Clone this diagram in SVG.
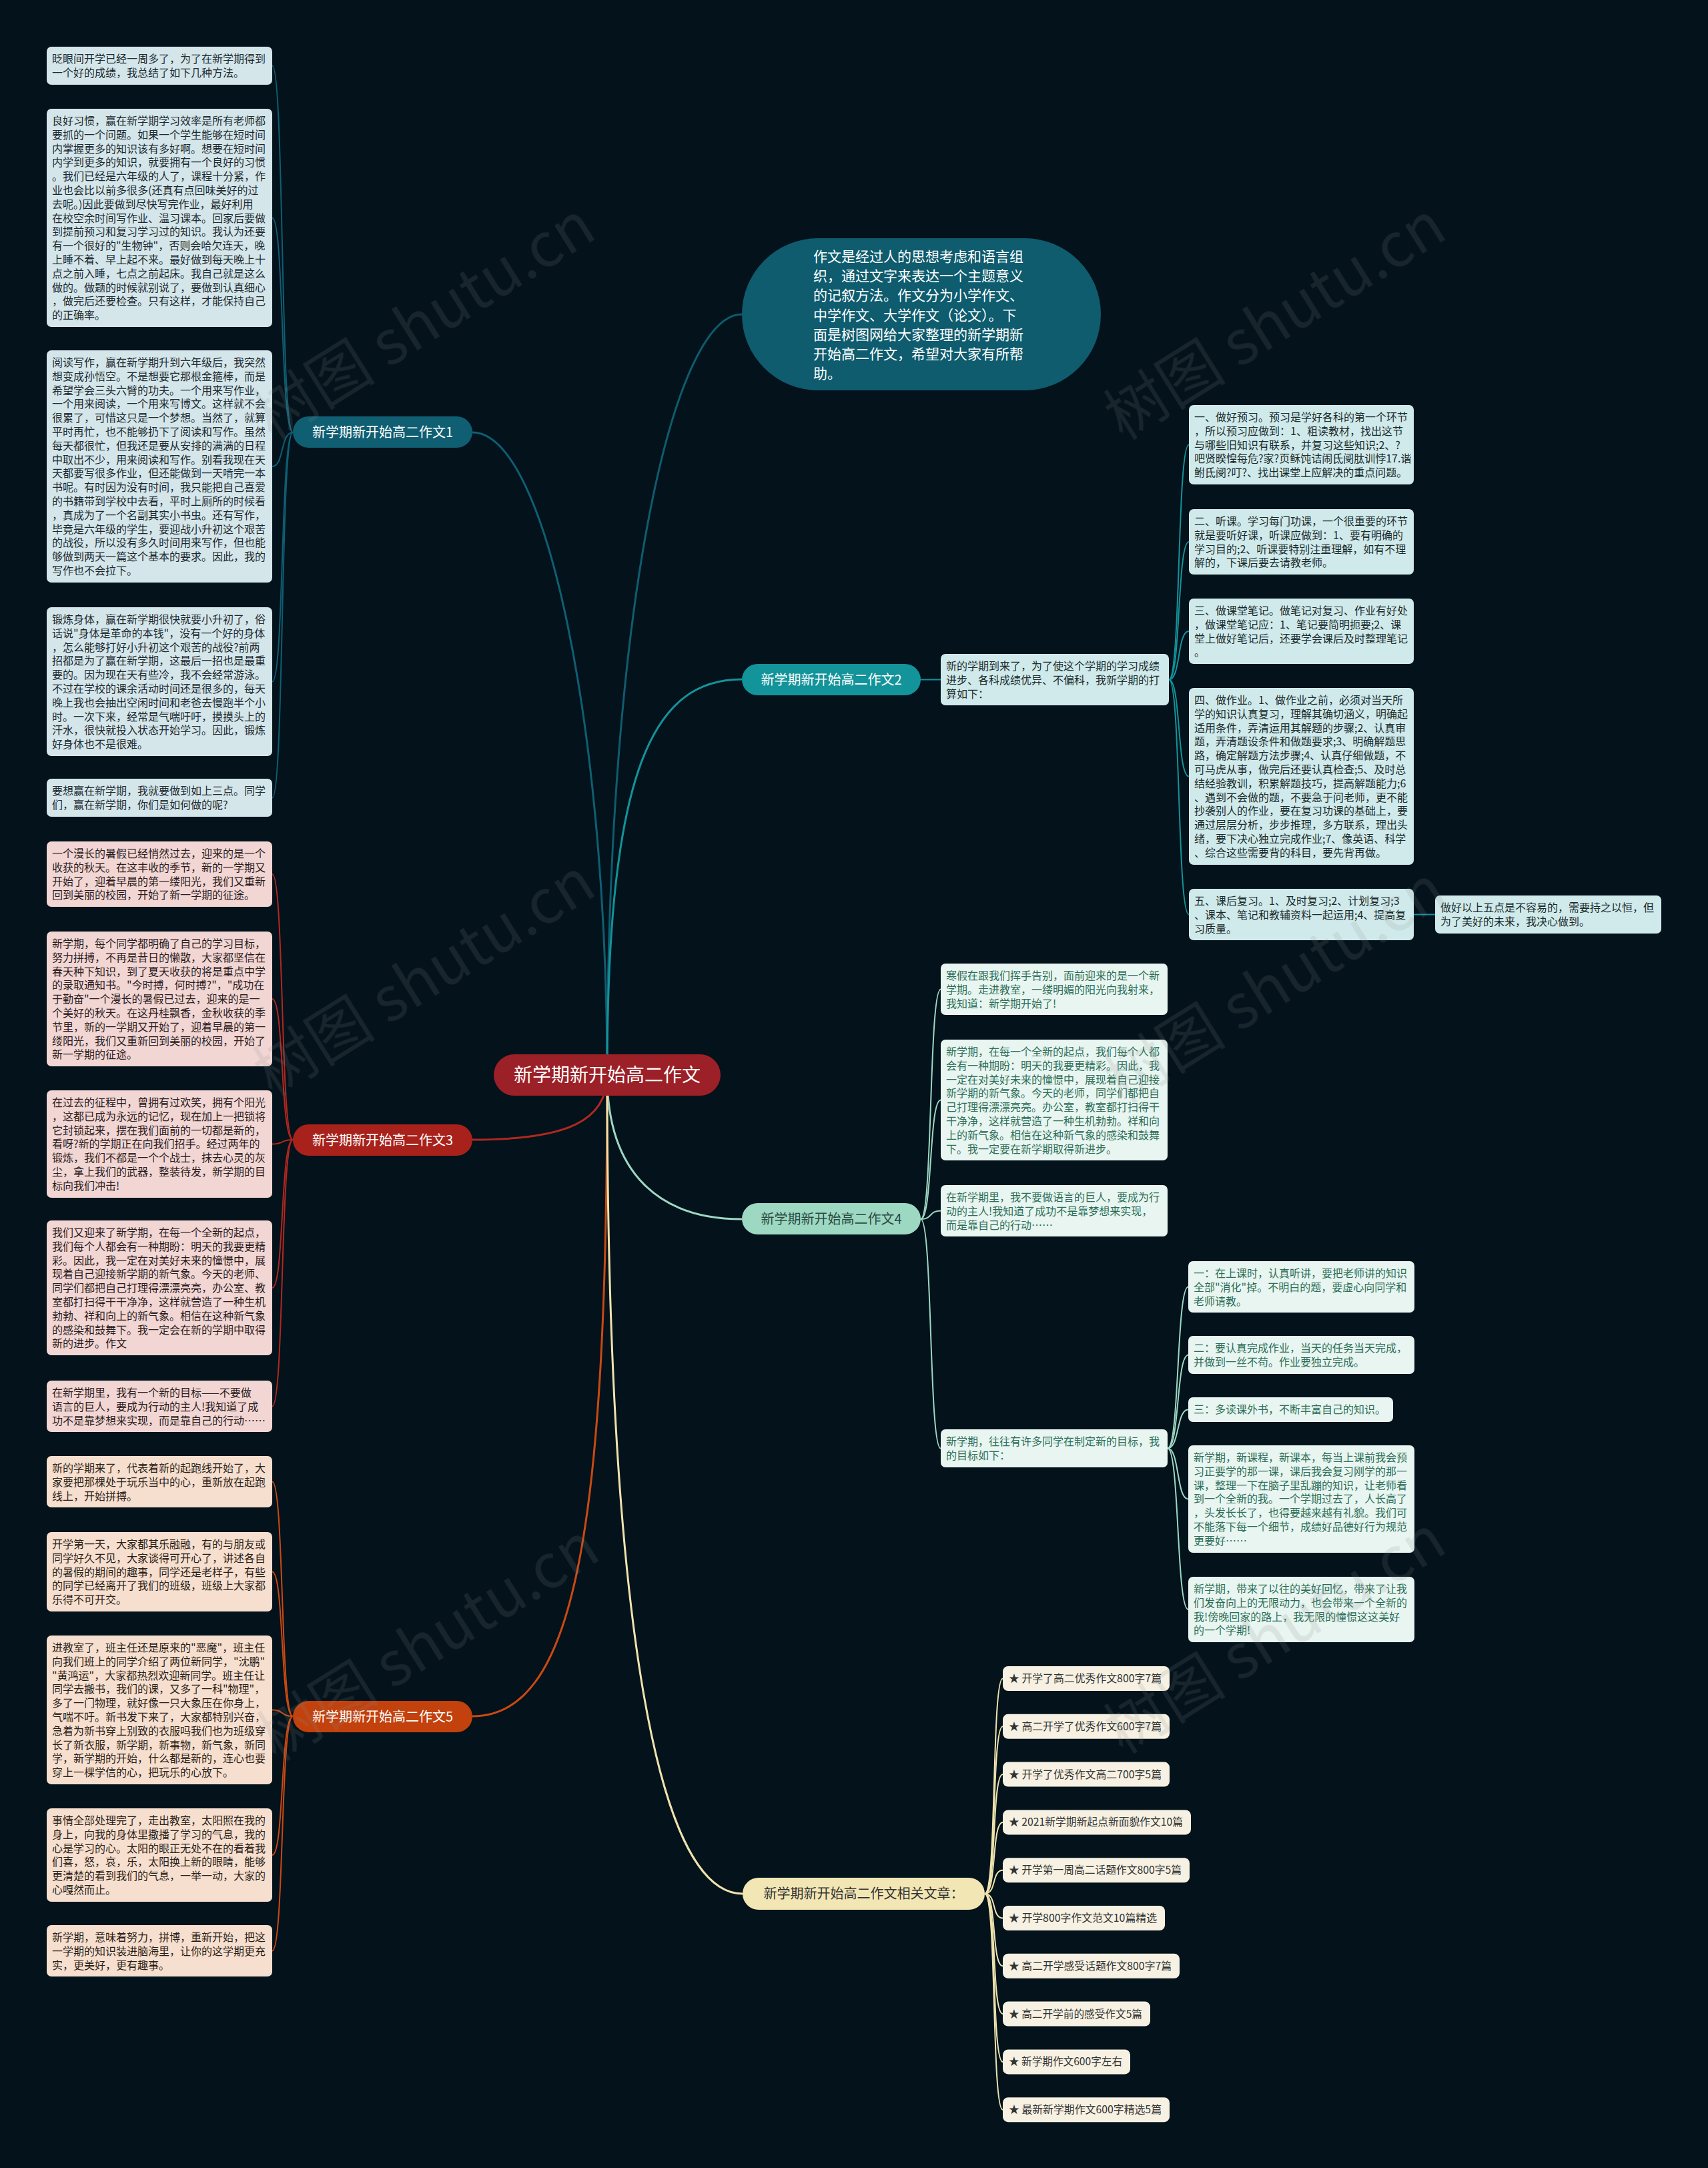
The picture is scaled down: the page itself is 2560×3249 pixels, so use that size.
<svg xmlns="http://www.w3.org/2000/svg" width="2560" height="3249" viewBox="0 0 2560 3249">
<style>
text{font-family:"Noto Sans CJK SC","Noto Sans",sans-serif}
.bt{font-size:16px}
.b1 rect{fill:#d4e6ea}.b1 text{fill:#1c2930}
.b3 rect{fill:#f1d6d4}.b3 text{fill:#2b1b1b}
.b5 rect{fill:#f6dfcf}.b5 text{fill:#2b1d15}
.b2 rect{fill:#d0eaeb}.b2 text{fill:#1a2a2c}
.b4 rect{fill:#e8f5f0}.b4 text{fill:#2c6e58}
.rel rect{fill:#f6f1e2}.rel text{fill:#333;font-size:16px}
.nd text{font-size:20px;text-anchor:middle}
.wm{font-family:"Liberation Serif","Noto Sans CJK SC",serif;font-size:92px;fill:#8a8a8a;opacity:0.16}
</style>
<rect x="0" y="0" width="2560" height="3249" fill="#03121b"/>

<g id="connectors" fill="none">
<g stroke-width="3">
<path d="M1112 471 C1010 471,910 900,910 1611" stroke="#0e5c6e"/>
<path d="M708 648 C820 648,910 1100,910 1611" stroke="#0f5e72"/>
<path d="M1112 1018 C980 1018,910 1150,910 1611" stroke="#13939a"/>
<path d="M708 1708 C850 1708,910 1680,910 1611" stroke="#b02820"/>
<path d="M910 1611 C910 1760,990 1827,1112 1827" stroke="#9dd8c3"/>
<path d="M708 2572 C860 2572,910 2300,910 1611" stroke="#c94a12"/>
<path d="M910 1611 C910 2400,980 2838,1113 2838" stroke="#efe3ad"/>
</g>
<g stroke-width="2" stroke="#0f5e72">
<path d="M439 648 C420 648,426 98.5,408 98.5"/>
<path d="M439 648 C420 648,426 326.5,408 326.5"/>
<path d="M439 648 C420 648,426 699,408 699"/>
<path d="M439 648 C420 648,426 1021.5,408 1021.5"/>
<path d="M439 648 C420 648,426 1195.5,408 1195.5"/>
</g>
<g stroke-width="2" stroke="#b02820">
<path d="M439 1708 C420 1708,426 1310,408 1310"/>
<path d="M439 1708 C420 1708,426 1497,408 1497"/>
<path d="M439 1708 C420 1708,426 1714.5,408 1714.5"/>
<path d="M439 1708 C420 1708,426 1930,408 1930"/>
<path d="M439 1708 C420 1708,426 2107.5,408 2107.5"/>
</g>
<g stroke-width="2" stroke="#c94a12">
<path d="M439 2572 C420 2572,426 2220.5,408 2220.5"/>
<path d="M439 2572 C420 2572,426 2355.5,408 2355.5"/>
<path d="M439 2572 C420 2572,426 2562.5,408 2562.5"/>
<path d="M439 2572 C420 2572,426 2780,408 2780"/>
<path d="M439 2572 C420 2572,426 2923.5,408 2923.5"/>
</g>
<g stroke-width="2" stroke="#13939a">
<path d="M1380 1018.5 L1410 1018.5"/>
<path d="M1752 1018.5 C1770 1018.5,1764 666.5,1782 666.5"/>
<path d="M1752 1018.5 C1770 1018.5,1764 812,1782 812"/>
<path d="M1752 1018.5 C1770 1018.5,1764 946,1782 946"/>
<path d="M1752 1018.5 C1770 1018.5,1764 1163.5,1782 1163.5"/>
<path d="M1752 1018.5 C1770 1018.5,1764 1370.5,1782 1370.5"/>
<path d="M2119 1370.5 L2151 1370.5"/>
</g>
<g stroke-width="2" stroke="#9dd8c3">
<path d="M1380 1827 C1398 1827,1392 1482.5,1410 1482.5"/>
<path d="M1380 1827 C1398 1827,1392 1648.5,1410 1648.5"/>
<path d="M1380 1827 C1398 1827,1392 1814.5,1410 1814.5"/>
<path d="M1380 1827 C1398 1827,1392 2170.5,1410 2170.5"/>
<path d="M1750 2170.5 C1768 2170.5,1763 1928.5,1781 1928.5"/>
<path d="M1750 2170.5 C1768 2170.5,1763 2030.5,1781 2030.5"/>
<path d="M1750 2170.5 C1768 2170.5,1763 2112.5,1781 2112.5"/>
<path d="M1750 2170.5 C1768 2170.5,1763 2246.5,1781 2246.5"/>
<path d="M1750 2170.5 C1768 2170.5,1763 2412,1781 2412"/>
</g>
<g stroke-width="2" stroke="#efe3ad">
<path d="M1476 2838 C1494 2838,1486 2515.5,1503 2515.5"/>
<path d="M1476 2838 C1494 2838,1486 2587.3,1503 2587.3"/>
<path d="M1476 2838 C1494 2838,1486 2659.1,1503 2659.1"/>
<path d="M1476 2838 C1494 2838,1486 2730.9,1503 2730.9"/>
<path d="M1476 2838 C1494 2838,1486 2802.7,1503 2802.7"/>
<path d="M1476 2838 C1494 2838,1486 2874.5,1503 2874.5"/>
<path d="M1476 2838 C1494 2838,1486 2946.3,1503 2946.3"/>
<path d="M1476 2838 C1494 2838,1486 3018.1,1503 3018.1"/>
<path d="M1476 2838 C1494 2838,1486 3089.9,1503 3089.9"/>
<path d="M1476 2838 C1494 2838,1486 3161.7,1503 3161.7"/>
</g>
</g>

<g id="center">
<rect x="740" y="1580" width="340" height="62" rx="31" fill="#9c2027"/>
<text x="910" y="1621" font-size="28" fill="#fff" text-anchor="middle">新学期新开始高二作文</text>
</g>

<g id="intro">
<rect x="1112" y="357" width="538" height="228" rx="114" fill="#0e5c6e"/>
<text x="1219" y="392" font-size="21" fill="#fff"><tspan x="1219">作文是经过人的思想考虑和语言组</tspan><tspan x="1219" dy="29.2">织，通过文字来表达一个主题意义</tspan><tspan x="1219" dy="29.2">的记叙方法。作文分为小学作文、</tspan><tspan x="1219" dy="29.2">中学作文、大学作文（论文）。下</tspan><tspan x="1219" dy="29.2">面是树图网给大家整理的新学期新</tspan><tspan x="1219" dy="29.2">开始高二作文，希望对大家有所帮</tspan><tspan x="1219" dy="29.2">助。</tspan></text>
</g>

<g id="branch1" class="nd">
<rect x="439" y="624" width="269" height="47" rx="23.5" fill="#0f5e72"/>
<text x="573.5" y="655" fill="#fff">新学期新开始高二作文1</text>
</g>
<g id="branch2" class="nd">
<rect x="1112" y="995" width="268" height="47" rx="23.5" fill="#13939a"/>
<text x="1246" y="1026" fill="#fff">新学期新开始高二作文2</text>
</g>
<g id="branch3" class="nd">
<rect x="439" y="1685" width="269" height="47" rx="23.5" fill="#a8221b"/>
<text x="573.5" y="1716" fill="#fff">新学期新开始高二作文3</text>
</g>
<g id="branch4" class="nd">
<rect x="1112" y="1803" width="268" height="47" rx="23.5" fill="#9dd8c3"/>
<text x="1246" y="1834" fill="#2a4a40">新学期新开始高二作文4</text>
</g>
<g id="branch5" class="nd">
<rect x="439" y="2549" width="269" height="47" rx="23.5" fill="#c2410c"/>
<text x="573.5" y="2580" fill="#fff">新学期新开始高二作文5</text>
</g>
<g id="related" class="nd">
<rect x="1113" y="2814" width="363" height="48" rx="24" fill="#f2e6b4"/>
<text x="1294.5" y="2845" fill="#333">新学期新开始高二作文相关文章：</text>
</g>

<!-- branch 1 leaves -->
<g class="b1 bt">
<g id="n1a"><rect x="70" y="70" width="338" height="57" rx="7"/><text x="78" y="94"><tspan x="78">眨眼间开学已经一周多了，为了在新学期得到</tspan><tspan x="78" dy="20.8">一个好的成绩，我总结了如下几种方法。</tspan></text></g>
<g id="n1b"><rect x="70" y="163" width="338" height="327" rx="7"/><text x="78" y="187"><tspan x="78">良好习惯，赢在新学期学习效率是所有老师都</tspan><tspan x="78" dy="20.8">要抓的一个问题。如果一个学生能够在短时间</tspan><tspan x="78" dy="20.8">内掌握更多的知识该有多好啊。想要在短时间</tspan><tspan x="78" dy="20.8">内学到更多的知识，就要拥有一个良好的习惯</tspan><tspan x="78" dy="20.8">。我们已经是六年级的人了，课程十分紧，作</tspan><tspan x="78" dy="20.8">业也会比以前多很多(还真有点回味美好的过</tspan><tspan x="78" dy="20.8">去呢。)因此要做到尽快写完作业，最好利用</tspan><tspan x="78" dy="20.8">在校空余时间写作业、温习课本。回家后要做</tspan><tspan x="78" dy="20.8">到提前预习和复习学习过的知识。我认为还要</tspan><tspan x="78" dy="20.8">有一个很好的"生物钟"，否则会哈欠连天，晚</tspan><tspan x="78" dy="20.8">上睡不着、早上起不来。最好做到每天晚上十</tspan><tspan x="78" dy="20.8">点之前入睡，七点之前起床。我自己就是这么</tspan><tspan x="78" dy="20.8">做的。做题的时候就别说了，要做到认真细心</tspan><tspan x="78" dy="20.8">，做完后还要检查。只有这样，才能保持自己</tspan><tspan x="78" dy="20.8">的正确率。</tspan></text></g>
<g id="n1c"><rect x="70" y="525" width="338" height="348" rx="7"/><text x="78" y="549"><tspan x="78">阅读写作，赢在新学期升到六年级后，我突然</tspan><tspan x="78" dy="20.8">想变成孙悟空。不是想要它那根金箍棒，而是</tspan><tspan x="78" dy="20.8">希望学会三头六臂的功夫。一个用来写作业，</tspan><tspan x="78" dy="20.8">一个用来阅读，一个用来写博文。这样就不会</tspan><tspan x="78" dy="20.8">很累了，可惜这只是一个梦想。当然了，就算</tspan><tspan x="78" dy="20.8">平时再忙，也不能够扔下了阅读和写作。虽然</tspan><tspan x="78" dy="20.8">每天都很忙，但我还是要从安排的满满的日程</tspan><tspan x="78" dy="20.8">中取出不少，用来阅读和写作。别看我现在天</tspan><tspan x="78" dy="20.8">天都要写很多作业，但还能做到一天啃完一本</tspan><tspan x="78" dy="20.8">书呢。有时因为没有时间，我只能把自己喜爱</tspan><tspan x="78" dy="20.8">的书籍带到学校中去看，平时上厕所的时候看</tspan><tspan x="78" dy="20.8">，真成为了一个名副其实小书虫。还有写作，</tspan><tspan x="78" dy="20.8">毕竟是六年级的学生，要迎战小升初这个艰苦</tspan><tspan x="78" dy="20.8">的战役，所以没有多久时间用来写作，但也能</tspan><tspan x="78" dy="20.8">够做到两天一篇这个基本的要求。因此，我的</tspan><tspan x="78" dy="20.8">写作也不会拉下。</tspan></text></g>
<g id="n1d"><rect x="70" y="910" width="338" height="223" rx="7"/><text x="78" y="934"><tspan x="78">锻炼身体，赢在新学期很快就要小升初了，俗</tspan><tspan x="78" dy="20.8">话说"身体是革命的本钱"，没有一个好的身体</tspan><tspan x="78" dy="20.8">，怎么能够打好小升初这个艰苦的战役?前两</tspan><tspan x="78" dy="20.8">招都是为了赢在新学期，这最后一招也是最重</tspan><tspan x="78" dy="20.8">要的。因为现在天有些冷，我不会经常游泳。</tspan><tspan x="78" dy="20.8">不过在学校的课余活动时间还是很多的，每天</tspan><tspan x="78" dy="20.8">晚上我也会抽出空闲时间和老爸去慢跑半个小</tspan><tspan x="78" dy="20.8">时。一次下来，经常是气喘吁吁，摸摸头上的</tspan><tspan x="78" dy="20.8">汗水，很快就投入状态开始学习。因此，锻炼</tspan><tspan x="78" dy="20.8">好身体也不是很难。</tspan></text></g>
<g id="n1e"><rect x="70" y="1167" width="338" height="57" rx="7"/><text x="78" y="1191"><tspan x="78">要想赢在新学期，我就要做到如上三点。同学</tspan><tspan x="78" dy="20.8">们，赢在新学期，你们是如何做的呢?</tspan></text></g>
</g>

<!-- branch 3 leaves -->
<g class="b3 bt">
<g id="n3a"><rect x="70" y="1261" width="338" height="98" rx="7"/><text x="78" y="1285"><tspan x="78">一个漫长的暑假已经悄然过去，迎来的是一个</tspan><tspan x="78" dy="20.8">收获的秋天。在这丰收的季节，新的一学期又</tspan><tspan x="78" dy="20.8">开始了，迎着早晨的第一缕阳光，我们又重新</tspan><tspan x="78" dy="20.8">回到美丽的校园，开始了新一学期的征途。</tspan></text></g>
<g id="n3b"><rect x="70" y="1396" width="338" height="202" rx="7"/><text x="78" y="1420"><tspan x="78">新学期，每个同学都明确了自己的学习目标，</tspan><tspan x="78" dy="20.8">努力拼搏，不再是昔日的懒散，大家都坚信在</tspan><tspan x="78" dy="20.8">春天种下知识，到了夏天收获的将是重点中学</tspan><tspan x="78" dy="20.8">的录取通知书。"今时搏，何时搏?"，"成功在</tspan><tspan x="78" dy="20.8">于勤奋"一个漫长的暑假已过去，迎来的是一</tspan><tspan x="78" dy="20.8">个美好的秋天。在这丹桂飘香，金秋收获的季</tspan><tspan x="78" dy="20.8">节里，新的一学期又开始了，迎着早晨的第一</tspan><tspan x="78" dy="20.8">缕阳光，我们又重新回到美丽的校园，开始了</tspan><tspan x="78" dy="20.8">新一学期的征途。</tspan></text></g>
<g id="n3c"><rect x="70" y="1634" width="338" height="161" rx="7"/><text x="78" y="1658"><tspan x="78">在过去的征程中，曾拥有过欢笑，拥有个阳光</tspan><tspan x="78" dy="20.8">，这都已成为永远的记忆，现在加上一把锁将</tspan><tspan x="78" dy="20.8">它封锁起来，摆在我们面前的一切都是新的，</tspan><tspan x="78" dy="20.8">看呀?新的学期正在向我们招手。经过两年的</tspan><tspan x="78" dy="20.8">锻炼，我们不都是一个个战士，抹去心灵的灰</tspan><tspan x="78" dy="20.8">尘，拿上我们的武器，整装待发，新学期的目</tspan><tspan x="78" dy="20.8">标向我们冲击!</tspan></text></g>
<g id="n3d"><rect x="70" y="1829" width="338" height="202" rx="7"/><text x="78" y="1853"><tspan x="78">我们又迎来了新学期，在每一个全新的起点，</tspan><tspan x="78" dy="20.8">我们每个人都会有一种期盼：明天的我要更精</tspan><tspan x="78" dy="20.8">彩。因此，我一定在对美好未来的憧憬中，展</tspan><tspan x="78" dy="20.8">现着自己迎接新学期的新气象。今天的老师、</tspan><tspan x="78" dy="20.8">同学们都把自己打理得漂漂亮亮，办公室、教</tspan><tspan x="78" dy="20.8">室都打扫得干干净净，这样就营造了一种生机</tspan><tspan x="78" dy="20.8">勃勃、祥和向上的新气象。相信在这种新气象</tspan><tspan x="78" dy="20.8">的感染和鼓舞下。我一定会在新的学期中取得</tspan><tspan x="78" dy="20.8">新的进步。作文</tspan></text></g>
<g id="n3e"><rect x="70" y="2069" width="338" height="77" rx="7"/><text x="78" y="2093"><tspan x="78">在新学期里，我有一个新的目标——不要做</tspan><tspan x="78" dy="20.8">语言的巨人，要成为行动的主人!我知道了成</tspan><tspan x="78" dy="20.8">功不是靠梦想来实现，而是靠自己的行动……</tspan></text></g>
</g>

<!-- branch 5 leaves -->
<g class="b5 bt">
<g id="n5a"><rect x="70" y="2182" width="338" height="77" rx="7"/><text x="78" y="2206"><tspan x="78">新的学期来了，代表着新的起跑线开始了，大</tspan><tspan x="78" dy="20.8">家要把那棵处于玩乐当中的心，重新放在起跑</tspan><tspan x="78" dy="20.8">线上，开始拼搏。</tspan></text></g>
<g id="n5b"><rect x="70" y="2296" width="338" height="119" rx="7"/><text x="78" y="2320"><tspan x="78">开学第一天，大家都其乐融融，有的与朋友或</tspan><tspan x="78" dy="20.8">同学好久不见，大家谈得可开心了，讲述各自</tspan><tspan x="78" dy="20.8">的暑假的期间的趣事，同学还是老样子，有些</tspan><tspan x="78" dy="20.8">的同学已经离开了我们的班级，班级上大家都</tspan><tspan x="78" dy="20.8">乐得不可开交。</tspan></text></g>
<g id="n5c"><rect x="70" y="2451" width="338" height="223" rx="7"/><text x="78" y="2475"><tspan x="78">进教室了，班主任还是原来的"恶魔"，班主任</tspan><tspan x="78" dy="20.8">向我们班上的同学介绍了两位新同学，"沈鹏"</tspan><tspan x="78" dy="20.8">"黄鸿运"，大家都热烈欢迎新同学。班主任让</tspan><tspan x="78" dy="20.8">同学去搬书，我们的课，又多了一科"物理"，</tspan><tspan x="78" dy="20.8">多了一门物理，就好像一只大象压在你身上，</tspan><tspan x="78" dy="20.8">气喘不吁。新书发下来了，大家都特别兴奋，</tspan><tspan x="78" dy="20.8">急着为新书穿上别致的衣服吗我们也为班级穿</tspan><tspan x="78" dy="20.8">长了新衣服，新学期，新事物，新气象，新同</tspan><tspan x="78" dy="20.8">学，新学期的开始，什么都是新的，连心也要</tspan><tspan x="78" dy="20.8">穿上一棵学信的心，把玩乐的心放下。</tspan></text></g>
<g id="n5d"><rect x="70" y="2710" width="338" height="140" rx="7"/><text x="78" y="2734"><tspan x="78">事情全部处理完了，走出教室，太阳照在我的</tspan><tspan x="78" dy="20.8">身上，向我的身体里撒播了学习的气息，我的</tspan><tspan x="78" dy="20.8">心是学习的心。太阳的眼正无处不在的看着我</tspan><tspan x="78" dy="20.8">们喜，怒，哀，乐，太阳换上新的眼睛，能够</tspan><tspan x="78" dy="20.8">更清楚的看到我们的气息，一举一动，大家的</tspan><tspan x="78" dy="20.8">心嘎然而止。</tspan></text></g>
<g id="n5e"><rect x="70" y="2885" width="338" height="77" rx="7"/><text x="78" y="2909"><tspan x="78">新学期，意味着努力，拼博，重新开始，把这</tspan><tspan x="78" dy="20.8">一学期的知识装进脑海里，让你的这学期更充</tspan><tspan x="78" dy="20.8">实，更美好，更有趣事。</tspan></text></g>
</g>

<!-- branch 2 leaves -->
<g class="b2 bt">
<g id="n2a"><rect x="1410" y="980" width="342" height="77" rx="7"/><text x="1418" y="1004"><tspan x="1418">新的学期到来了，为了使这个学期的学习成绩</tspan><tspan x="1418" dy="20.8">进步、各科成绩优异、不偏科，我新学期的打</tspan><tspan x="1418" dy="20.8">算如下：</tspan></text></g>
<g id="n2b"><rect x="1782" y="607" width="337" height="119" rx="7"/><text x="1790" y="631"><tspan x="1790">一、做好预习。预习是学好各科的第一个环节</tspan><tspan x="1790" dy="20.8">，所以预习应做到：1、粗读教材，找出这节</tspan><tspan x="1790" dy="20.8">与哪些旧知识有联系，并复习这些知识;2、?</tspan><tspan x="1790" dy="20.8">吧贤暌惶每危?家?页稣饨诘闹氐阌肽训悖17.谐</tspan><tspan x="1790" dy="20.8">鲋氐阌?叮?、找出课堂上应解决的重点问题。</tspan></text></g>
<g id="n2c"><rect x="1782" y="763" width="337" height="98" rx="7"/><text x="1790" y="787"><tspan x="1790">二、听课。学习每门功课，一个很重要的环节</tspan><tspan x="1790" dy="20.8">就是要听好课，听课应做到：1、要有明确的</tspan><tspan x="1790" dy="20.8">学习目的;2、听课要特别注重理解，如有不理</tspan><tspan x="1790" dy="20.8">解的，下课后要去请教老师。</tspan></text></g>
<g id="n2d"><rect x="1782" y="897" width="337" height="98" rx="7"/><text x="1790" y="921"><tspan x="1790">三、做课堂笔记。做笔记对复习、作业有好处</tspan><tspan x="1790" dy="20.8">，做课堂笔记应：1、笔记要简明扼要;2、课</tspan><tspan x="1790" dy="20.8">堂上做好笔记后，还要学会课后及时整理笔记</tspan><tspan x="1790" dy="20.8">。</tspan></text></g>
<g id="n2e"><rect x="1782" y="1031" width="337" height="265" rx="7"/><text x="1790" y="1055"><tspan x="1790">四、做作业。1、做作业之前，必须对当天所</tspan><tspan x="1790" dy="20.8">学的知识认真复习，理解其确切涵义，明确起</tspan><tspan x="1790" dy="20.8">适用条件，弄清运用其解题的步骤;2、认真审</tspan><tspan x="1790" dy="20.8">题，弄清题设条件和做题要求;3、明确解题思</tspan><tspan x="1790" dy="20.8">路，确定解题方法步骤;4、认真仔细做题，不</tspan><tspan x="1790" dy="20.8">可马虎从事，做完后还要认真检查;5、及时总</tspan><tspan x="1790" dy="20.8">结经验教训，积累解题技巧，提高解题能力;6</tspan><tspan x="1790" dy="20.8">、遇到不会做的题，不要急于问老师，更不能</tspan><tspan x="1790" dy="20.8">抄袭别人的作业，要在复习功课的基础上，要</tspan><tspan x="1790" dy="20.8">通过层层分析，步步推理，多方联系，理出头</tspan><tspan x="1790" dy="20.8">绪，要下决心独立完成作业;7、像英语、科学</tspan><tspan x="1790" dy="20.8">、综合这些需要背的科目，要先背再做。</tspan></text></g>
<g id="n2f"><rect x="1782" y="1332" width="337" height="77" rx="7"/><text x="1790" y="1356"><tspan x="1790">五、课后复习。1、及时复习;2、计划复习;3</tspan><tspan x="1790" dy="20.8">、课本、笔记和教辅资料一起运用;4、提高复</tspan><tspan x="1790" dy="20.8">习质量。</tspan></text></g>
<g id="n2g"><rect x="2151" y="1342" width="339" height="57" rx="7"/><text x="2159" y="1366"><tspan x="2159">做好以上五点是不容易的，需要持之以恒，但</tspan><tspan x="2159" dy="20.8">为了美好的未来，我决心做到。</tspan></text></g>
</g>

<!-- branch 4 leaves -->
<g class="b4 bt">
<g id="n4a"><rect x="1410" y="1444" width="340" height="77" rx="7"/><text x="1418" y="1468"><tspan x="1418">寒假在跟我们挥手告别，面前迎来的是一个新</tspan><tspan x="1418" dy="20.8">学期。走进教室，一缕明媚的阳光向我射来，</tspan><tspan x="1418" dy="20.8">我知道：新学期开始了!</tspan></text></g>
<g id="n4b"><rect x="1410" y="1558" width="340" height="181" rx="7"/><text x="1418" y="1582"><tspan x="1418">新学期，在每一个全新的起点，我们每个人都</tspan><tspan x="1418" dy="20.8">会有一种期盼：明天的我要更精彩。因此，我</tspan><tspan x="1418" dy="20.8">一定在对美好未来的憧憬中，展现着自己迎接</tspan><tspan x="1418" dy="20.8">新学期的新气象。今天的老师，同学们都把自</tspan><tspan x="1418" dy="20.8">己打理得漂漂亮亮。办公室，教室都打扫得干</tspan><tspan x="1418" dy="20.8">干净净，这样就营造了一种生机勃勃。祥和向</tspan><tspan x="1418" dy="20.8">上的新气象。相信在这种新气象的感染和鼓舞</tspan><tspan x="1418" dy="20.8">下。我一定要在新学期取得新进步。</tspan></text></g>
<g id="n4c"><rect x="1410" y="1776" width="340" height="77" rx="7"/><text x="1418" y="1800"><tspan x="1418">在新学期里，我不要做语言的巨人，要成为行</tspan><tspan x="1418" dy="20.8">动的主人!我知道了成功不是靠梦想来实现，</tspan><tspan x="1418" dy="20.8">而是靠自己的行动……</tspan></text></g>
<g id="n4d"><rect x="1410" y="2142" width="340" height="57" rx="7"/><text x="1418" y="2166"><tspan x="1418">新学期，往往有许多同学在制定新的目标，我</tspan><tspan x="1418" dy="20.8">的目标如下：</tspan></text></g>
<g id="n4e"><rect x="1781" y="1890" width="339" height="77" rx="7"/><text x="1789" y="1914"><tspan x="1789">一：在上课时，认真听讲，要把老师讲的知识</tspan><tspan x="1789" dy="20.8">全部"消化"掉。不明白的题，要虚心向同学和</tspan><tspan x="1789" dy="20.8">老师请教。</tspan></text></g>
<g id="n4f"><rect x="1781" y="2002" width="339" height="57" rx="7"/><text x="1789" y="2026"><tspan x="1789">二：要认真完成作业，当天的任务当天完成，</tspan><tspan x="1789" dy="20.8">并做到一丝不苟。作业要独立完成。</tspan></text></g>
<g id="n4g"><rect x="1781" y="2094" width="307" height="37" rx="7"/><text x="1789" y="2118">三：多读课外书，不断丰富自己的知识。</text></g>
<g id="n4h"><rect x="1781" y="2166" width="339" height="161" rx="7"/><text x="1789" y="2190"><tspan x="1789">新学期，新课程，新课本，每当上课前我会预</tspan><tspan x="1789" dy="20.8">习正要学的那一课，课后我会复习刚学的那一</tspan><tspan x="1789" dy="20.8">课，整理一下在脑子里乱蹦的知识，让老师看</tspan><tspan x="1789" dy="20.8">到一个全新的我。一个学期过去了，人长高了</tspan><tspan x="1789" dy="20.8">，头发长长了，也得要越来越有礼貌。我们可</tspan><tspan x="1789" dy="20.8">不能落下每一个细节，成绩好品德好行为规范</tspan><tspan x="1789" dy="20.8">更要好……</tspan></text></g>
<g id="n4i"><rect x="1781" y="2363" width="339" height="98" rx="7"/><text x="1789" y="2387"><tspan x="1789">新学期，带来了以往的美好回忆，带来了让我</tspan><tspan x="1789" dy="20.8">们发奋向上的无限动力，也会带来一个全新的</tspan><tspan x="1789" dy="20.8">我!傍晚回家的路上，我无限的憧憬这这美好</tspan><tspan x="1789" dy="20.8">的一个学期!</tspan></text></g>
</g>

<!-- related articles -->
<g class="rel">
<g id="r1"><rect x="1503" y="2497" width="250" height="37" rx="8"/><text x="1512" y="2521" textLength="229" lengthAdjust="spacingAndGlyphs">★ 开学了高二优秀作文800字7篇</text></g>
<g id="r2"><rect x="1503" y="2568.8" width="250" height="37" rx="8"/><text x="1512" y="2592.8" textLength="229" lengthAdjust="spacingAndGlyphs">★ 高二开学了优秀作文600字7篇</text></g>
<g id="r3"><rect x="1503" y="2640.6" width="250" height="37" rx="8"/><text x="1512" y="2664.6" textLength="229" lengthAdjust="spacingAndGlyphs">★ 开学了优秀作文高二700字5篇</text></g>
<g id="r4"><rect x="1503" y="2712.4" width="282" height="37" rx="8"/><text x="1512" y="2736.4" textLength="261" lengthAdjust="spacingAndGlyphs">★ 2021新学期新起点新面貌作文10篇</text></g>
<g id="r5"><rect x="1503" y="2784.2" width="280" height="37" rx="8"/><text x="1512" y="2808.2" textLength="259" lengthAdjust="spacingAndGlyphs">★ 开学第一周高二话题作文800字5篇</text></g>
<g id="r6"><rect x="1503" y="2856" width="243" height="37" rx="8"/><text x="1512" y="2880" textLength="222" lengthAdjust="spacingAndGlyphs">★ 开学800字作文范文10篇精选</text></g>
<g id="r7"><rect x="1503" y="2927.8" width="265" height="37" rx="8"/><text x="1512" y="2951.8" textLength="244" lengthAdjust="spacingAndGlyphs">★ 高二开学感受话题作文800字7篇</text></g>
<g id="r8"><rect x="1503" y="2999.6" width="221" height="37" rx="8"/><text x="1512" y="3023.6" textLength="200" lengthAdjust="spacingAndGlyphs">★ 高二开学前的感受作文5篇</text></g>
<g id="r9"><rect x="1503" y="3071.4" width="191" height="37" rx="8"/><text x="1512" y="3095.4" textLength="170" lengthAdjust="spacingAndGlyphs">★ 新学期作文600字左右</text></g>
<g id="r10"><rect x="1503" y="3143.2" width="250" height="37" rx="8"/><text x="1512" y="3167.2" textLength="229" lengthAdjust="spacingAndGlyphs">★ 最新新学期作文600字精选5篇</text></g>
</g>

<g id="watermarks" class="wm">
<text transform="translate(653 508) rotate(-32)" text-anchor="middle">树图 shutu.cn</text>
<text transform="translate(1928 508) rotate(-32)" text-anchor="middle">树图 shutu.cn</text>
<text transform="translate(653 1492) rotate(-32)" text-anchor="middle">树图 shutu.cn</text>
<text transform="translate(1928 1503) rotate(-32)" text-anchor="middle">树图 shutu.cn</text>
<text transform="translate(659 2488) rotate(-32)" text-anchor="middle">树图 shutu.cn</text>
<text transform="translate(1928 2477) rotate(-32)" text-anchor="middle">树图 shutu.cn</text>
</g>
</svg>
